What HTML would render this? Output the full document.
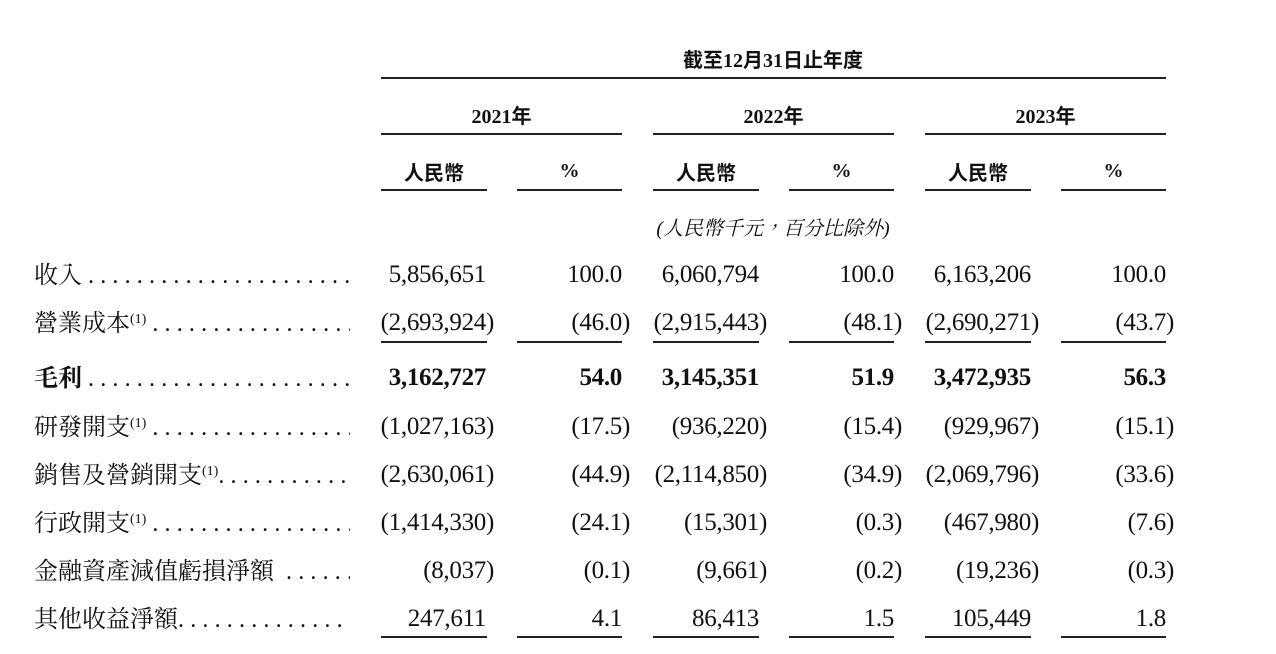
<!DOCTYPE html>
<html><head><meta charset="utf-8"><style>
body{margin:0;width:1276px;height:654px;background:#fff;position:relative;overflow:hidden;font-family:"Liberation Serif","Noto Serif CJK SC",serif;color:#111}
.a{position:absolute;white-space:nowrap}
.h{font-weight:bold;font-size:20px;text-align:center;font-family:"Liberation Serif","Noto Sans CJK TC",serif}
.ln{position:absolute;height:1.5px;background:#222}
.lab{position:absolute;left:34px;font-size:24px;font-family:"Liberation Serif","Noto Serif CJK TC",serif;width:316px;overflow:hidden;white-space:nowrap}
.lab sup{font-size:14px;vertical-align:8px}
.d{letter-spacing:6.2px}
.n{position:absolute;font-size:25px;text-align:right;width:200px;white-space:nowrap;letter-spacing:-0.3px}
.n i{font-style:normal;margin-right:-8px}
.b{font-weight:bold}
</style></head><body>
<div class="a h" style="left:573px;width:400px;top:44px">截至12月31日止年度</div>
<div class="ln" style="left:381px;width:785px;top:77px"></div>
<div class="a h" style="left:381px;width:241px;top:100px">2021年</div>
<div class="a h" style="left:653px;width:241px;top:100px">2022年</div>
<div class="a h" style="left:925px;width:241px;top:100px">2023年</div>
<div class="ln" style="left:381px;width:241px;top:133px"></div>
<div class="ln" style="left:653px;width:241px;top:133px"></div>
<div class="ln" style="left:925px;width:241px;top:133px"></div>
<div class="a h" style="left:381px;width:106px;top:157px">人民幣</div>
<div class="a h" style="left:517px;width:105px;top:160px">%</div>
<div class="a h" style="left:653px;width:106px;top:157px">人民幣</div>
<div class="a h" style="left:789px;width:105px;top:160px">%</div>
<div class="a h" style="left:925px;width:106px;top:157px">人民幣</div>
<div class="a h" style="left:1061px;width:105px;top:160px">%</div>
<div class="ln" style="left:381px;width:106px;top:189px"></div>
<div class="ln" style="left:517px;width:105px;top:189px"></div>
<div class="ln" style="left:653px;width:106px;top:189px"></div>
<div class="ln" style="left:789px;width:105px;top:189px"></div>
<div class="ln" style="left:925px;width:106px;top:189px"></div>
<div class="ln" style="left:1061px;width:105px;top:189px"></div>
<div class="a" style="left:573px;width:400px;top:212px;text-align:center;font-size:20px;font-style:italic;font-family:'Liberation Serif','Noto Serif CJK TC',serif">(人民幣千元，百分比除外)</div>

<div class="ln" style="left:381px;width:106px;top:341px"></div>
<div class="ln" style="left:517px;width:105px;top:341px"></div>
<div class="ln" style="left:653px;width:106px;top:341px"></div>
<div class="ln" style="left:789px;width:105px;top:341px"></div>
<div class="ln" style="left:925px;width:106px;top:341px"></div>
<div class="ln" style="left:1061px;width:105px;top:341px"></div>
<div class="ln" style="left:381px;width:106px;top:636px"></div>
<div class="ln" style="left:517px;width:105px;top:636px"></div>
<div class="ln" style="left:653px;width:106px;top:636px"></div>
<div class="ln" style="left:789px;width:105px;top:636px"></div>
<div class="ln" style="left:925px;width:106px;top:636px"></div>
<div class="ln" style="left:1061px;width:105px;top:636px"></div>

<div id="rows"></div>
<script>
var D='<span class="d">..................................................</span>';
var rows=[
[258,"收入 "+D,["5,856,651","100.0","6,060,794","100.0","6,163,206","100.0"],0],
[306,"營業成本<sup>(1)</sup> "+D,["(2,693,924)","(46.0)","(2,915,443)","(48.1)","(2,690,271)","(43.7)"],0],
[361,"<b>毛利</b> "+D,["3,162,727","54.0","3,145,351","51.9","3,472,935","56.3"],1],
[410,"研發開支<sup>(1)</sup> "+D,["(1,027,163)","(17.5)","(936,220)","(15.4)","(929,967)","(15.1)"],0],
[458,"銷售及營銷開支<sup>(1)</sup>"+D,["(2,630,061)","(44.9)","(2,114,850)","(34.9)","(2,069,796)","(33.6)"],0],
[506,"行政開支<sup>(1)</sup> "+D,["(1,414,330)","(24.1)","(15,301)","(0.3)","(467,980)","(7.6)"],0],
[554,"金融資產減值虧損淨額 &nbsp;"+D,["(8,037)","(0.1)","(9,661)","(0.2)","(19,236)","(0.3)"],0],
[602,"其他收益淨額"+D,["247,611","4.1","86,413","1.5","105,449","1.8"],0]];
var R=[486,622,759,894,1031,1166],h="";
rows.forEach(function(r){
 h+='<div class="lab" style="top:'+(r[0]-3)+'px">'+r[1]+'</div>';
 r[2].forEach(function(v,i){
  var t=v.replace(/\)$/,'<i>)</i>');
  h+='<div class="n'+(r[3]?' b':'')+'" style="top:'+(r[0]+3)+'px;left:'+(R[i]-200)+'px">'+t+'</div>';
 });
});
document.getElementById('rows').innerHTML=h;
</script>
</body></html>
